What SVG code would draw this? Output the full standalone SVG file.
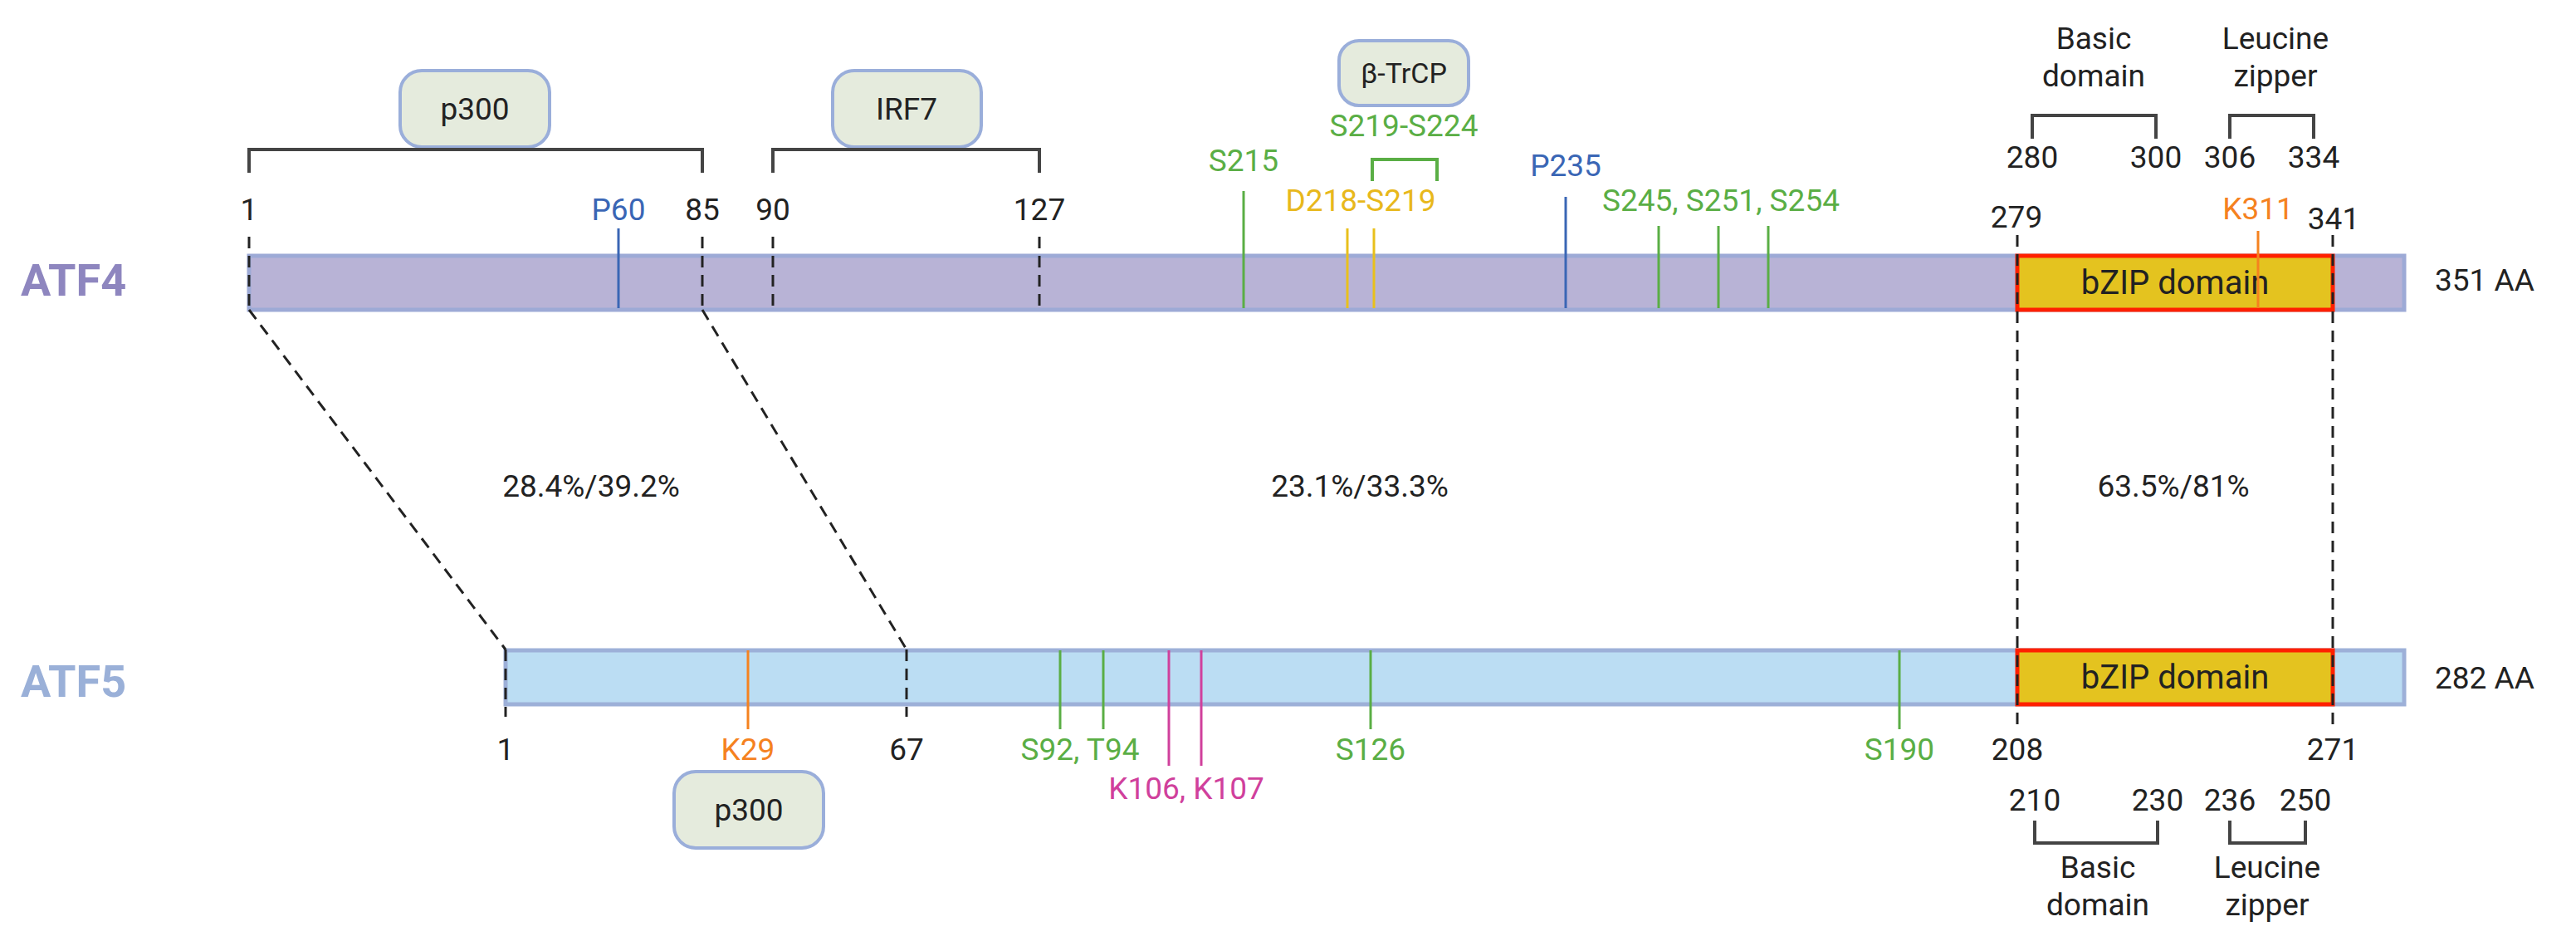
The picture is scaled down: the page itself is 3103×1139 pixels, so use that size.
<svg xmlns="http://www.w3.org/2000/svg" width="3103" height="1139" viewBox="0 0 3103 1139">
<style>
text{font-family:Roboto,"Liberation Sans",sans-serif;font-size:37px;fill:#222;text-anchor:middle}
.box{fill:#E5EBDD;stroke:#9AAEDA;stroke-width:4}
.br{fill:none;stroke:#444;stroke-width:4}
.dash{stroke:#222;stroke-width:3;stroke-dasharray:14 9;fill:none}
.g{stroke:#5AAE45;stroke-width:3}.gt{fill:#5AAE45}
.b{stroke:#3A66B5;stroke-width:3}.bt{fill:#3A66B5}
.y{stroke:#E8C01C;stroke-width:3}.yt{fill:#E8B81C}
.o{stroke:#F5821F;stroke-width:3}.ot{fill:#F5821F}
.m{stroke:#D0409C;stroke-width:3}.mt{fill:#D0409C}
.name{font-weight:bold;font-size:54px;text-anchor:start}
</style>
<g id="atf4">
<rect x="300" y="308" width="2596" height="65" fill="#B8B3D6" stroke="#9DAAD6" stroke-width="5"/>
<text class="name" x="25" y="356" fill="#8E86BF" style="fill:#8E86BF">ATF4</text>
<text x="2933" y="350" style="text-anchor:start">351 AA</text>
<rect x="2430" y="308" width="380" height="65" fill="#E4C31F" stroke="#FF2000" stroke-width="5"/>
<text x="2620" y="354" style="font-size:40px">bZIP domain</text>
</g>
<g id="atf5">
<rect x="609" y="783" width="2287" height="65" fill="#BBDDF3" stroke="#9DB0D8" stroke-width="5"/>
<text class="name" x="25" y="839" style="fill:#9AB0D8">ATF5</text>
<text x="2933" y="829" style="text-anchor:start">282 AA</text>
<rect x="2430" y="783" width="380" height="65" fill="#E4C31F" stroke="#FF2000" stroke-width="5"/>
<text x="2620" y="829" style="font-size:40px">bZIP domain</text>
</g>
<g id="atf4-p300"><rect class="box" x="482" y="85" width="180" height="92" rx="26"/><text x="572" y="144">p300</text>
<path class="br" d="M300 208V180H846V208"/></g>
<g id="atf4-irf7"><rect class="box" x="1003" y="85" width="179" height="92" rx="26"/><text x="1092" y="144">IRF7</text>
<path class="br" d="M931 208V180H1252V208"/></g>
<g id="btrcp"><rect class="box" x="1613" y="49" width="156" height="78" rx="24"/><text x="1691" y="100" style="font-size:34px">β-TrCP</text>
<path d="M1653 218V192H1731V218" fill="none" stroke="#5AAE45" stroke-width="4"/>
<text class="gt" x="1691" y="164">S219-S224</text></g>
<g id="atf4-labels">
<text x="300" y="265">1</text><text class="bt" x="745" y="265">P60</text><text x="846" y="265">85</text><text x="931" y="265">90</text><text x="1252" y="265">127</text>
<text class="gt" x="1498" y="206">S215</text>
<text class="yt" x="1639" y="254">D218-S219</text>
<text class="bt" x="1886" y="212">P235</text>
<text class="gt" x="2073" y="254">S245, S251, S254</text>
<text x="2429" y="274">279</text><text x="2811" y="276">341</text>
<text class="ot" x="2720" y="264">K311</text>
<line class="b" x1="745" y1="275" x2="745" y2="371"/>
<line class="g" x1="1498" y1="230" x2="1498" y2="371"/>
<line class="y" x1="1623" y1="275" x2="1623" y2="371"/><line class="y" x1="1655" y1="275" x2="1655" y2="371"/>
<line class="b" x1="1886" y1="237" x2="1886" y2="371"/>
<line class="g" x1="1998" y1="272" x2="1998" y2="371"/><line class="g" x1="2070" y1="272" x2="2070" y2="371"/><line class="g" x1="2130" y1="272" x2="2130" y2="371"/>
<line class="o" x1="2720" y1="278" x2="2720" y2="371"/>
</g>
<g id="atf4-bzip-sub">
<text x="2522" y="59">Basic</text><text x="2522" y="104">domain</text>
<text x="2741" y="59">Leucine</text><text x="2741" y="104">zipper</text>
<path class="br" d="M2448 167V139H2597V167"/><path class="br" d="M2686 167V139H2787V167"/>
<text x="2448" y="202">280</text><text x="2597" y="202">300</text><text x="2686" y="202">306</text><text x="2787" y="202">334</text>
</g>
<g id="atf5-labels">
<line class="o" x1="901" y1="783" x2="901" y2="878"/>
<line class="g" x1="1277" y1="783" x2="1277" y2="878"/><line class="g" x1="1329" y1="783" x2="1329" y2="878"/>
<line class="m" x1="1408" y1="783" x2="1408" y2="922"/><line class="m" x1="1447" y1="783" x2="1447" y2="922"/>
<line class="g" x1="1651" y1="783" x2="1651" y2="878"/><line class="g" x1="2288" y1="783" x2="2288" y2="878"/>
<text x="609" y="915">1</text><text class="ot" x="901" y="915">K29</text><text x="1092" y="915">67</text>
<text class="gt" x="1301" y="915">S92, T94</text><text class="mt" x="1429" y="962">K106, K107</text>
<text class="gt" x="1651" y="915">S126</text><text class="gt" x="2288" y="915">S190</text>
<text x="2430" y="915">208</text><text x="2810" y="915">271</text>
</g>
<g id="atf5-p300"><rect class="box" x="812" y="929" width="180" height="92" rx="26"/><text x="902" y="988">p300</text></g>
<g id="atf5-bzip-sub">
<text x="2451" y="976">210</text><text x="2599" y="976">230</text><text x="2686" y="976">236</text><text x="2777" y="976">250</text>
<path class="br" d="M2451 988V1015H2599V988"/><path class="br" d="M2686 988V1015H2777V988"/>
<text x="2527" y="1057">Basic</text><text x="2527" y="1102">domain</text>
<text x="2731" y="1057">Leucine</text><text x="2731" y="1102">zipper</text>
</g>
<g id="connectors">
<line class="dash" x1="300" y1="285" x2="300" y2="373"/>
<line class="dash" x1="846" y1="285" x2="846" y2="373"/>
<line class="dash" x1="931" y1="285" x2="931" y2="373"/>
<line class="dash" x1="1252" y1="285" x2="1252" y2="373"/>
<line class="dash" x1="300" y1="373" x2="609" y2="782"/>
<line class="dash" x1="846" y1="373" x2="1092" y2="782"/>
<line class="dash" x1="609" y1="782" x2="609" y2="863"/>
<line class="dash" x1="1092" y1="782" x2="1092" y2="863"/>
<line class="dash" x1="2430" y1="283" x2="2430" y2="880"/>
<line class="dash" x1="2810" y1="283" x2="2810" y2="880"/>
</g>
<g id="identity">
<text x="712" y="598">28.4%/39.2%</text>
<text x="1638" y="598">23.1%/33.3%</text>
<text x="2618" y="598">63.5%/81%</text>
</g>
</svg>
